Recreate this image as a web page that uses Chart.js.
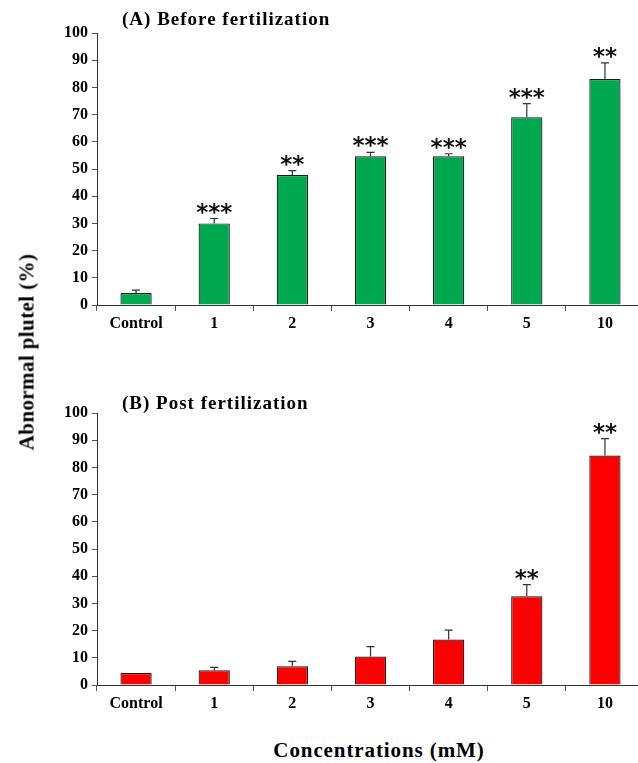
<!DOCTYPE html>
<html>
<head>
<meta charset="utf-8">
<script src="https://cdn.jsdelivr.net/npm/chart.js@4"></script>
<style>
  html, body { margin: 0; padding: 0; background: #fff; width: 638px; height: 763px; overflow: hidden; }
  .panel { position: absolute; left: 0; width: 650px; height: 340px; }
  #ytitle {
    position: absolute; left: 27px; top: 352px; white-space: nowrap;
    transform: translate(-50%, -50%) rotate(-90deg);
    font: bold 21px "Liberation Serif", serif; color: #000; letter-spacing: 0.4px;
  }
  #xtitle {
    position: absolute; left: 379px; top: 750px; white-space: nowrap;
    transform: translate(-50%, -50%);
    font: bold 21px "Liberation Serif", serif; color: #000; letter-spacing: 0.9px;
  }
</style>
</head>
<body>
<div class="panel" style="top:0"><canvas id="chartA" width="650" height="340"></canvas></div>
<div class="panel" style="top:380px"><canvas id="chartB" width="650" height="340"></canvas></div>
<div id="ytitle">Abnormal plutel (%)</div>
<div id="xtitle">Concentrations (mM)</div>
<script>
// data
const categories = ["Control", "1", "2", "3", "4", "5", "10"];
const yTicks = [0, 10, 20, 30, 40, 50, 60, 70, 80, 90, 100];

const beforeMean = [4.4, 30, 47.8, 54.7, 54.7, 69, 83.1];
const beforeErr = [1.1, 1.8, 1.6, 1.4, 0.9, 5.0, 5.9];
const beforeSig = ["", "***", "**", "***", "***", "***", "**"];

const postMean = [4.4, 5.4, 6.9, 10.5, 16.7, 32.6, 84.4];
const postErr = [0, 1.1, 1.8, 3.6, 3.5, 4.3, 6.2];
const postSig = ["", "", "", "", "", "**", "**"];

const SERIF = '"Liberation Serif", "Times New Roman", serif';

// draws error caps, significance stars and the panel heading
function overlay(title, titleY, mean, err, sig) {
  return {
    id: "overlay",
    afterDatasetsDraw(chart) {
      const ctx = chart.ctx;
      const y = chart.scales.y;
      const bars = chart.getDatasetMeta(0).data;
      ctx.save();
      ctx.strokeStyle = "#333";
      ctx.lineWidth = 1.2;
      bars.forEach((bar, i) => {
        const top = y.getPixelForValue(mean[i] + err[i]);
        if (err[i] > 0) {
          const base = y.getPixelForValue(mean[i]);
          ctx.beginPath();
          ctx.moveTo(bar.x, base);
          ctx.lineTo(bar.x, top);
          ctx.moveTo(bar.x - 4, top);
          ctx.lineTo(bar.x + 4, top);
          ctx.stroke();
        }
        if (sig[i]) {
          ctx.fillStyle = "#111";
          ctx.font = 'bold 23px "DejaVu Sans", sans-serif';
          ctx.letterSpacing = "0px";
          ctx.textAlign = "center";
          ctx.textBaseline = "alphabetic";
          ctx.fillText(sig[i], bar.x, top + 1);
        }
      });
      ctx.letterSpacing = "1px";
      ctx.font = "bold 19px " + SERIF;
      ctx.fillStyle = "#000";
      ctx.textAlign = "left";
      ctx.textBaseline = "middle";
      ctx.fillText(title, 122, titleY);
      ctx.restore();
    }
  };
}

function makeChart(id, color, mean, err, sig, title, titleY) {
  return new Chart(document.getElementById(id), {
    type: "bar",
    data: {
      labels: categories,
      datasets: [{
        data: mean,
        backgroundColor: color,
        borderColor: "#1a1a1a",
        borderWidth: 1.2,
        barPercentage: 0.4,
        categoryPercentage: 1.0
      }]
    },
    options: {
      responsive: false,
      animation: false,
      layout: { padding: { top: 33, right: 6, left: 0, bottom: 0 } },
      plugins: { legend: { display: false }, tooltip: { enabled: false } },
      scales: {
        x: {
          grid: { drawOnChartArea: false, drawTicks: true, tickLength: 6, color: "#555", offset: true },
          border: { color: "#333", width: 1 },
          ticks: { color: "#000", font: { family: SERIF, size: 16, weight: "bold" }, padding: 3, maxRotation: 0 },
          afterFit: s => { s.height = 35; }
        },
        y: {
          min: 0,
          max: 100,
          afterBuildTicks: s => { s.ticks = yTicks.map(v => ({ value: v })); },
          grid: { drawOnChartArea: false, drawTicks: true, tickLength: 5, color: "#555" },
          border: { color: "#333", width: 1 },
          ticks: { color: "#000", font: { family: SERIF, size: 16, weight: "bold" }, padding: 4 },
          afterFit: s => { s.width = 97; }
        }
      }
    },
    plugins: [overlay(title, titleY, mean, err, sig)]
  });
}

makeChart("chartA", "#00A84F", beforeMean, beforeErr, beforeSig, "(A) Before fertilization", 20);
makeChart("chartB", "#FF0000", postMean, postErr, postSig, "(B) Post fertilization", 24);
</script>
</body>
</html>
